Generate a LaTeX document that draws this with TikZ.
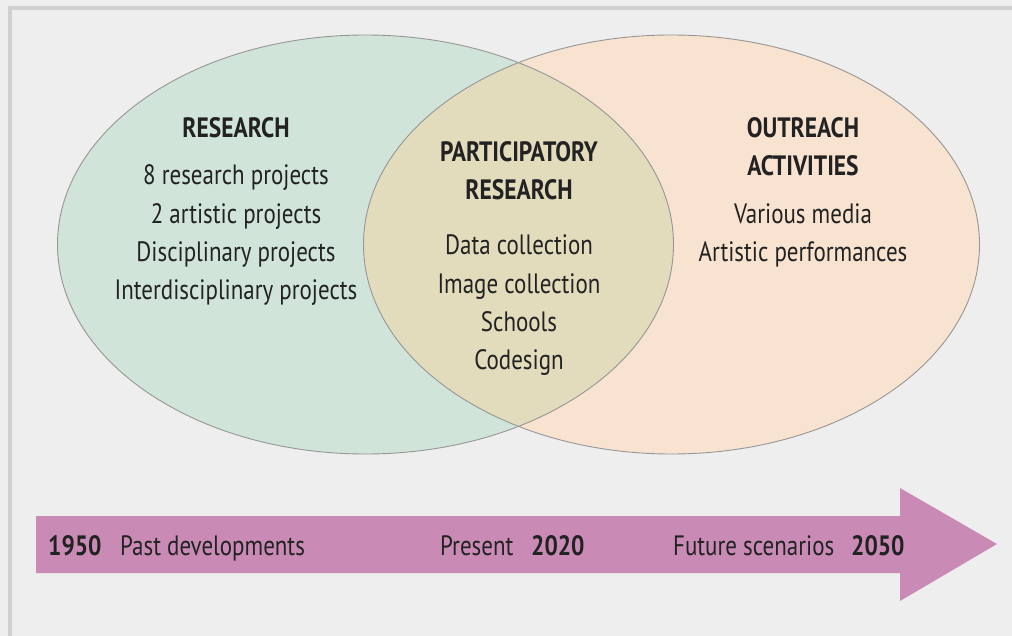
\documentclass[tikz,border=0pt]{standalone}
\usepackage{fontspec}
\setmainfont[FakeStretch=0.82, BoldFeatures={FakeStretch=0.84}]{PT Sans}
\definecolor{VennGreen}{RGB}{208,228,218}
\definecolor{VennOrange}{RGB}{248,227,208}
\definecolor{VennOlive}{RGB}{226,220,188}
\definecolor{TimeViolet}{RGB}{201,139,182}
\definecolor{BackGrey}{RGB}{238,238,238}
\definecolor{FrameGrey}{RGB}{208,208,208}
\definecolor{LineGrey}{RGB}{150,150,150}
\definecolor{TextBlack}{RGB}{34,34,34}

\begin{document}
\begin{tikzpicture}[x=1pt, y=-1pt,
  every node/.style={text=TextBlack, inner sep=0pt, font=\fontsize{28}{34}\selectfont},
  vennhead/.style={anchor=base, font=\fontsize{28}{34}\selectfont\bfseries},
  vennitem/.style={anchor=base},
  timetext/.style={anchor=base west},
  timeyear/.style={anchor=base west, font=\fontsize{28}{34}\selectfont\bfseries}]
\pgfmathsetmacro{\cy}{244.5} % common centre height of both ellipses
\pgfmathsetmacro{\rx}{308} % x radius
\pgfmathsetmacro{\ry}{209.5} % y radius
\pgfmathsetmacro{\xl}{365.5} % centre of research ellipse
\pgfmathsetmacro{\xr}{671.5} % centre of outreach ellipse
\pgfmathsetmacro{\ls}{38.3} % line step

\fill[BackGrey] (0,0) rectangle (1012,636); % background
\fill[FrameGrey] (8,6) rectangle (1012,10); % top frame line
\fill[FrameGrey] (8,6) rectangle (12,636); % left frame line

\fill[VennGreen] (\xl,\cy) ellipse [x radius=\rx, y radius=\ry]; % research
\fill[VennOrange] (\xr,\cy) ellipse [x radius=\rx, y radius=\ry]; % outreach
\begin{scope}
 \clip (\xl,\cy) ellipse [x radius=\rx, y radius=\ry];
 \fill[VennOlive] (\xr,\cy) ellipse [x radius=\rx, y radius=\ry]; % overlap
\end{scope}
\draw[LineGrey, line width=0.9pt] (\xl,\cy) ellipse [x radius=\rx, y radius=\ry];
\draw[LineGrey, line width=0.9pt] (\xr,\cy) ellipse [x radius=\rx, y radius=\ry];

% time arrow
\fill[TimeViolet] (36,516) -- (900,516) -- (900,488) -- (997,544) -- (900,601) -- (900,573) -- (36,573) -- cycle;

% research
\node[vennhead] (resHead) at (236,138) {RESEARCH};
\foreach \t [count=\i] in {8 research projects, 2 artistic projects, Disciplinary projects, Interdisciplinary projects}
 \node[vennitem] (res\i) at (236, 185+\ls*\i-\ls) {\t};

% participatory research
\node[vennhead] (parHead) at (519,162) {PARTICIPATORY};
\node[vennhead] (parHeadB) at (519,200) {RESEARCH};
\foreach \t [count=\i] in {Data collection, Image collection, Schools, Codesign}
 \node[vennitem] (par\i) at (519, 255+\ls*\i-\ls) {\t};

% outreach
\node[vennhead] (outHead) at (803,138) {OUTREACH};
\node[vennhead] (outHeadB) at (803,176) {ACTIVITIES};
\node[vennitem] (out1) at (803,224) {Various media};
\node[vennitem] (out2) at (803,262) {Artistic performances};

% labels on the arrow
\node[timeyear] (y1950) at (48,555) {1950};
\node[timetext] (past) at (120,555) {Past developments};
\node[timetext] (present) at (440,555) {Present};
\node[timeyear] (y2020) at (531,555) {2020};
\node[timetext] (future) at (673,555) {Future scenarios};
\node[timeyear] (y2050) at (851,555) {2050};
\end{tikzpicture}
\end{document}
